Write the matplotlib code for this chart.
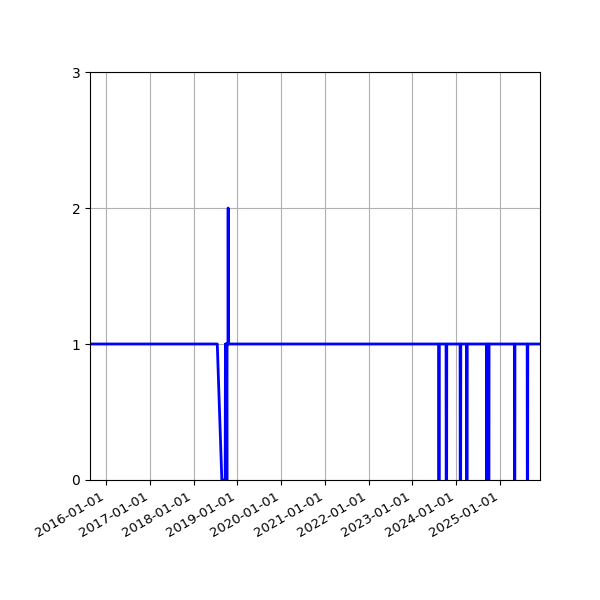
import numpy as np
import pandas as pd
import matplotlib
matplotlib.use('Agg')
import matplotlib.pyplot as plt
import matplotlib.dates as mdates

# 数据点（只记录变化处）
dates = [
    "2015-08-21", "2018-07-18", "2018-08-25", "2018-09-22",
    "2018-09-24", "2018-09-26", "2018-09-28", "2018-10-01",
    "2018-10-03", "2018-10-06", "2018-10-08", "2018-10-16",
    "2018-10-17", "2018-10-18",
    "2023-08-08", "2023-08-09", "2023-08-13", "2023-08-14",
    "2023-10-09", "2023-10-10", "2023-10-14", "2023-10-15",
    "2024-02-03", "2024-02-04", "2024-02-08", "2024-02-09",
    "2024-03-28", "2024-03-29", "2024-04-02", "2024-04-03",
    "2024-09-10", "2024-09-11", "2024-09-14", "2024-09-15",
    "2024-09-27", "2024-09-28", "2024-10-01", "2024-10-02",
    "2025-05-01", "2025-05-02", "2025-05-05", "2025-05-06",
    "2025-08-16", "2025-08-17", "2025-08-20", "2025-08-21",
    "2025-12-01",
]
values = [
    1, 1, 0, 0,
    1, 0, 1, 0,
    1, 0, 1, 1,
    2, 1,
    1, 0, 0, 1,
    1, 0, 0, 1,
    1, 0, 0, 1,
    1, 0, 0, 1,
    1, 0, 0, 1,
    1, 0, 0, 1,
    1, 0, 0, 1,
    1, 0, 0, 1,
    1,
]

x = pd.to_datetime(dates)

fig, ax = plt.subplots(figsize=(6, 6), dpi=100)
ax.plot(x, values, color='blue', linewidth=2)

ax.set_xlim(x[0], x[-1])
ax.set_ylim(0, 3)
ax.set_yticks([0, 1, 2, 3])
ax.xaxis.set_major_locator(mdates.YearLocator())
ax.xaxis.set_major_formatter(mdates.DateFormatter('%Y-%m-%d'))
ax.tick_params(axis='x', labelsize=9.5)
ax.grid(True)
fig.autofmt_xdate()
fig.subplots_adjust(left=0.15, right=0.9, top=0.88, bottom=0.2)

fig.savefig('out.png')
